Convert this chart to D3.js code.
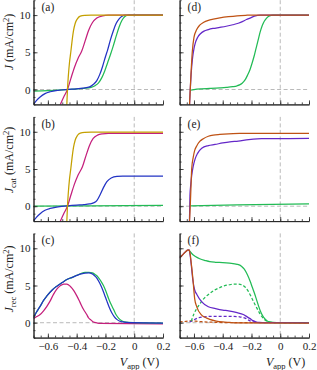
<!DOCTYPE html>
<html>
<head>
<meta charset="utf-8">
<script src="https://cdn.jsdelivr.net/npm/d3@7"></script>
<style>
  body { margin: 0; background: #fff; }
  svg text { font-family: "Liberation Serif", "DejaVu Serif", serif; fill: #222; }
</style>
</head>
<body>
<svg width="317" height="370"></svg>
<script>

// ---- data: [V_app (V), J (mA/cm2)] ----

var aGold = [[-0.469,-2.3],[-0.464,0],[-0.458,1.8],[-0.45,3.6],[-0.441,5],[-0.432,6.5],[-0.422,7.9],[-0.41,8.9],[-0.395,9.5],[-0.375,9.85],[-0.345,9.97],[-0.3,10],[0.2,10]]
var aMagenta = [[-0.52,-2.3],[-0.49,-1],[-0.464,0],[-0.44,1.5],[-0.415,3],[-0.39,4.2],[-0.364,5.2],[-0.34,6.6],[-0.318,7.9],[-0.29,9],[-0.26,9.6],[-0.22,9.9],[-0.18,10],[0.2,10]]
var aBlue = [[-0.7,-2],[-0.68,-1.5],[-0.654,-1],[-0.62,-0.55],[-0.584,-0.3],[-0.53,-0.1],[-0.464,0.02],[-0.4,0.1],[-0.353,0.2],[-0.31,0.35],[-0.283,0.7],[-0.26,1.2],[-0.24,2],[-0.22,3.1],[-0.2,4.4],[-0.185,5.3],[-0.165,6.7],[-0.145,7.9],[-0.125,8.9],[-0.105,9.5],[-0.085,9.85],[-0.06,10],[0.2,10]]
var aGreen = [[-0.7,-0.2],[-0.6,-0.15],[-0.5,-0.05],[-0.42,0.05],[-0.35,0.15],[-0.3,0.3],[-0.27,0.55],[-0.248,0.9],[-0.225,1.6],[-0.205,2.5],[-0.185,3.6],[-0.165,4.7],[-0.145,5.9],[-0.125,7.2],[-0.105,8.4],[-0.085,9.3],[-0.065,9.8],[-0.04,10],[0.2,10]]

var bGold = [[-0.469,-2.3],[-0.464,0],[-0.458,1.8],[-0.45,3.6],[-0.441,5],[-0.432,6.5],[-0.422,7.9],[-0.41,8.9],[-0.395,9.5],[-0.375,9.82],[-0.345,9.93],[-0.3,9.95],[0.2,9.95]]
var bMagenta = [[-0.52,-2.3],[-0.49,-1],[-0.464,0],[-0.44,1.5],[-0.415,3],[-0.39,4.2],[-0.36,5.3],[-0.335,6.8],[-0.31,8.2],[-0.285,9.1],[-0.255,9.55],[-0.22,9.72],[-0.18,9.78],[0.2,9.8]]
var bBlue = [[-0.7,-2],[-0.68,-1.5],[-0.654,-1],[-0.62,-0.55],[-0.584,-0.3],[-0.53,-0.1],[-0.464,0.05],[-0.4,0.15],[-0.35,0.2],[-0.31,0.3],[-0.283,0.45],[-0.26,0.75],[-0.237,1.55],[-0.214,2.5],[-0.19,3.3],[-0.16,3.8],[-0.12,4.0],[-0.08,4.03],[0.2,4.05]]
var bGreen = [[-0.7,0.02],[-0.3,0.06],[0.2,0.1]]

var cBlue = [[-0.7,0.67],[-0.68,1.4],[-0.654,2.2],[-0.63,3],[-0.607,3.6],[-0.57,4.4],[-0.538,4.9],[-0.5,5.4],[-0.468,5.8],[-0.43,6.1],[-0.399,6.35],[-0.37,6.55],[-0.341,6.67],[-0.315,6.68],[-0.295,6.6],[-0.275,6.3],[-0.26,6],[-0.242,5.4],[-0.225,4.7],[-0.207,3.8],[-0.19,2.9],[-0.173,2.05],[-0.156,1.33],[-0.138,0.8],[-0.121,0.45],[-0.1,0.2],[-0.08,0.1],[-0.05,0.03],[-0.02,0],[0.2,-0.05]]
var cGreen = [[-0.7,0.67],[-0.68,1.4],[-0.654,2.2],[-0.63,3],[-0.607,3.6],[-0.57,4.4],[-0.538,4.9],[-0.5,5.4],[-0.468,5.8],[-0.43,6.1],[-0.399,6.38],[-0.37,6.6],[-0.341,6.75],[-0.315,6.78],[-0.29,6.7],[-0.27,6.45],[-0.25,6.1],[-0.232,5.6],[-0.214,5],[-0.196,4.2],[-0.179,3.3],[-0.162,2.5],[-0.144,1.8],[-0.127,1.1],[-0.109,0.62],[-0.09,0.3],[-0.07,0.12],[-0.04,0.03],[0,0],[0.2,-0.05]]
var cMagenta = [[-0.7,0.53],[-0.68,0.8],[-0.654,1.1],[-0.63,1.6],[-0.607,2.2],[-0.585,2.9],[-0.561,3.8],[-0.538,4.5],[-0.515,4.95],[-0.49,5.2],[-0.468,5.2],[-0.445,4.9],[-0.42,4.3],[-0.399,3.6],[-0.376,2.7],[-0.353,1.8],[-0.33,1.1],[-0.318,0.67],[-0.3,0.35],[-0.284,0.1],[-0.26,-0.02],[-0.237,-0.1],[0.2,-0.15]]

var dOrange = [[-0.632,-2.5],[-0.626,0],[-0.621,2],[-0.612,5],[-0.6,7],[-0.581,8.05],[-0.56,8.65],[-0.535,9],[-0.5,9.3],[-0.466,9.46],[-0.42,9.62],[-0.36,9.78],[-0.3,9.9],[-0.24,9.97],[-0.2,10],[0.2,10]]
var dPurple = [[-0.632,-2.5],[-0.626,0],[-0.62,2],[-0.61,4.2],[-0.6,5.5],[-0.59,6.3],[-0.575,7],[-0.555,7.5],[-0.53,7.85],[-0.5,8.05],[-0.468,8.2],[-0.42,8.35],[-0.376,8.5],[-0.33,8.7],[-0.292,8.9],[-0.26,9.15],[-0.235,9.4],[-0.21,9.6],[-0.18,9.85],[-0.14,10],[0.2,10]]
var dGreen = [[-0.626,-0.1],[-0.6,0],[-0.55,0.1],[-0.49,0.15],[-0.42,0.22],[-0.376,0.28],[-0.33,0.38],[-0.3,0.5],[-0.283,0.62],[-0.265,0.85],[-0.246,1.25],[-0.228,1.9],[-0.21,2.7],[-0.195,3.6],[-0.18,4.6],[-0.166,5.7],[-0.153,6.7],[-0.14,7.7],[-0.125,8.6],[-0.11,9.2],[-0.095,9.6],[-0.075,9.9],[-0.05,10],[0.2,10]]

var eOrange = [[-0.632,-2.5],[-0.626,0],[-0.621,2.5],[-0.616,5],[-0.605,6.6],[-0.595,7.5],[-0.581,8.1],[-0.56,8.7],[-0.535,9.07],[-0.5,9.4],[-0.466,9.56],[-0.42,9.65],[-0.36,9.73],[-0.28,9.78],[-0.2,9.8],[0.2,9.8]]
var ePurple = [[-0.632,-2.5],[-0.628,1.4],[-0.622,3],[-0.616,4.1],[-0.605,5.4],[-0.593,6.3],[-0.575,7.1],[-0.546,7.8],[-0.5,8.15],[-0.454,8.3],[-0.4,8.5],[-0.35,8.65],[-0.292,8.76],[-0.22,8.95],[-0.16,9.05],[-0.13,9.07],[0.2,9.1]]
var eGreen = [[-0.628,0.03],[-0.3,0.18],[0.2,0.32]]

var fOrange = [[-0.7,8.67],[-0.68,9.1],[-0.66,9.5],[-0.645,9.75],[-0.635,9.8],[-0.627,9.3],[-0.619,8],[-0.607,5.8],[-0.595,3.2],[-0.58,2.1],[-0.55,1.1],[-0.52,0.7],[-0.49,0.45],[-0.445,0.22],[-0.4,0.1],[-0.353,0.04],[-0.3,-0.02],[0.2,-0.06]]
var fPurple = [[-0.7,8.67],[-0.68,9.1],[-0.66,9.5],[-0.645,9.75],[-0.635,9.8],[-0.627,9.1],[-0.619,7.8],[-0.607,5.6],[-0.595,4.4],[-0.58,3.8],[-0.546,2.8],[-0.5,2.15],[-0.45,1.9],[-0.4,1.7],[-0.36,1.6],[-0.3,1.35],[-0.257,1.1],[-0.235,0.85],[-0.21,0.55],[-0.19,0.28],[-0.17,0.12],[-0.145,0.03],[-0.1,0],[0.2,-0.03]]
var fGreen = [[-0.635,9.8],[-0.62,9.4],[-0.605,9.1],[-0.59,8.9],[-0.56,8.6],[-0.52,8.35],[-0.49,8.2],[-0.45,8.12],[-0.4,8.08],[-0.353,8],[-0.3,7.85],[-0.27,7.6],[-0.25,7.2],[-0.23,6.5],[-0.21,5.6],[-0.195,4.8],[-0.18,4],[-0.165,3.1],[-0.15,2.2],[-0.137,1.5],[-0.123,0.95],[-0.108,0.55],[-0.093,0.27],[-0.075,0.1],[-0.05,0.03],[0,0],[0.2,0]]
var fGreenDash = [[-0.619,0.2],[-0.6,1.2],[-0.584,1.8],[-0.56,2.5],[-0.538,3.1],[-0.515,3.55],[-0.492,3.9],[-0.46,4.35],[-0.422,4.7],[-0.39,4.95],[-0.353,5.1],[-0.32,5.2],[-0.295,5.2],[-0.27,5.1],[-0.245,4.8],[-0.225,4.3],[-0.205,3.6],[-0.185,2.8],[-0.165,2.05],[-0.15,1.5],[-0.137,1.05],[-0.123,0.7],[-0.108,0.4],[-0.093,0.2],[-0.075,0.08],[-0.05,0.02],[0,0],[0.2,0]]
var fPurpleDash = [[-0.63,0.1],[-0.61,0.3],[-0.596,0.44],[-0.57,0.65],[-0.53,0.78],[-0.492,0.84],[-0.4,0.86],[-0.33,0.84],[-0.283,0.8],[-0.26,0.7],[-0.237,0.55],[-0.22,0.35],[-0.2,0.15],[-0.18,0.07],[-0.15,0.02],[0.2,0]]
var fOrangeDash = [[-0.7,0.1],[-0.67,0.15],[-0.64,0.22],[-0.62,0.25],[-0.6,0.22],[-0.57,0.17],[-0.53,0.12],[-0.48,0.07],[-0.42,0.03],[-0.35,0.01],[0.2,0]]

var vMajorTicks = [-0.6, -0.4, -0.2, 0, 0.2]
var vTickLabels = ["\u22120.6", "\u22120.4", "\u22120.2", "0", "0.2"]
var jMajorTicks = [0, 5, 10]
var jTickLabels = ["0", "5", "10"]
var panelLetters = ["(a)", "(b)", "(c)", "(d)", "(e)", "(f)"]
var yLabelSubs = ["", "cat", "rec"]

var gold = "#c4a000", magenta = "#c41f7c", blue = "#2233c4",
    green = "#22bb55", purple = "#6428c8", orange = "#bf5214"

var svg = d3.select("svg")

// layout
var colX = [[33.5, 163], [179.6, 309]]
var rowTop = [0.2, 116.9, 233.4]
var rowH = 104.2
var yLabelMid = [42, 160, 279]

var panels = [
  {col: 0, row: 0, curves: [[aGreen, green], [aBlue, blue], [aMagenta, magenta], [aGold, gold]]},
  {col: 0, row: 1, curves: [[bGreen, green], [bBlue, blue], [bMagenta, magenta], [bGold, gold]]},
  {col: 0, row: 2, curves: [[cMagenta, magenta], [cGreen, green], [cBlue, blue]]},
  {col: 1, row: 0, curves: [[dGreen, green], [dPurple, purple], [dOrange, orange]]},
  {col: 1, row: 1, curves: [[eGreen, green], [ePurple, purple], [eOrange, orange]]},
  {col: 1, row: 2, curves: [[fOrangeDash, orange, true], [fPurpleDash, purple, true], [fGreenDash, green, true],
                            [fGreen, green], [fPurple, purple], [fOrange, orange]]}
]

panels.forEach(function(p, i) {
  var x = d3.scaleLinear().domain([-0.7, 0.2]).range(colX[p.col])
  var y = d3.scaleLinear().domain([-2, 12]).range([rowTop[p.row] + rowH, rowTop[p.row]])
  var g = svg.append("g")

  g.append("clipPath").attr("id", "clip" + i)
    .append("rect")
    .attr("x", x(-0.7)).attr("y", y(12))
    .attr("width", x(0.2) - x(-0.7)).attr("height", y(-2) - y(12))

  // dashed guides at J=0 and V=0
  g.append("line")
    .attr("x1", x(-0.7)).attr("x2", x(0.2)).attr("y1", y(0)).attr("y2", y(0))
    .attr("stroke", "#a8a8a8").attr("stroke-width", 0.8).attr("stroke-dasharray", "4,2.5")
  g.append("line")
    .attr("x1", x(0)).attr("x2", x(0)).attr("y1", y(12)).attr("y2", y(-2))
    .attr("stroke", "#a8a8a8").attr("stroke-width", 0.8).attr("stroke-dasharray", "4,2.5")

  var line = d3.line()
    .x(function(d) { return x(d[0]) })
    .y(function(d) { return y(d[1]) })
    .curve(d3.curveMonotoneX)

  var curves = g.append("g").attr("clip-path", "url(#clip" + i + ")")
  p.curves.forEach(function(c) {
    curves.append("path")
      .attr("d", line(c[0]))
      .attr("fill", "none")
      .attr("stroke", c[1])
      .attr("stroke-width", 1.25)
      .attr("stroke-dasharray", c[2] ? "3,2" : null)
  })

  // axes, ticks pointing inwards
  var bottom = p.row == 2
  var xMinor = d3.axisBottom(x).tickValues(d3.range(-0.7, 0.2001, 0.05)).tickSize(-2).tickSizeOuter(0).tickFormat("")
  var xMajor = d3.axisBottom(x).tickValues(vMajorTicks).tickSize(-4).tickSizeOuter(0).tickPadding(5)
    .tickFormat(function(d, k) { return bottom ? vTickLabels[k] : "" })
  var yMinor = d3.axisLeft(y).tickValues(d3.range(-2, 12.01, 1)).tickSize(-2).tickSizeOuter(0).tickFormat("")
  var yMajor = d3.axisLeft(y).tickValues(jMajorTicks).tickSize(-4).tickSizeOuter(0).tickPadding(3)
    .tickFormat(function(d, k) { return p.col == 0 ? jTickLabels[k] : "" })

  var gx = y(-2)
  g.append("g").attr("transform", "translate(0," + gx + ")").call(xMinor)
  g.append("g").attr("transform", "translate(0," + gx + ")").call(xMajor)
  g.append("g").attr("transform", "translate(" + x(-0.7) + ",0)").call(yMinor)
  g.append("g").attr("transform", "translate(" + x(-0.7) + ",0)").call(yMajor)

  g.selectAll(".domain").attr("stroke", "#222").attr("stroke-width", 0.9)
  g.selectAll(".tick line").attr("stroke", "#222").attr("stroke-width", 0.8)
  g.selectAll(".tick text")
    .attr("font-size", 11)
    .attr("fill", "#222")

  g.append("text")
    .attr("x", x(-0.7) + 8)
    .attr("y", rowTop[p.row] + 11)
    .attr("font-size", 11.5)
    .text(panelLetters[i])

  if (p.col == 0) {
    var lab = g.append("text")
      .attr("transform", "translate(13," + yLabelMid[p.row] + ") rotate(-90)")
      .attr("text-anchor", "middle")
      .attr("font-size", 12)
    lab.append("tspan").attr("font-style", "italic").text("J")
    if (yLabelSubs[p.row]) {
      lab.append("tspan").attr("font-size", 8.5).attr("dy", 2.5).text(yLabelSubs[p.row])
      lab.append("tspan").attr("dy", -2.5).text(" (mA/cm")
    } else {
      lab.append("tspan").text(" (mA/cm")
    }
    lab.append("tspan").attr("font-size", 8.5).attr("dy", -4.5).text("2")
    lab.append("tspan").attr("dy", 4.5).text(")")
  }

  if (bottom) {
    var xl = g.append("text")
      .attr("x", colX[p.col][0] + 106)
      .attr("y", 366)
      .attr("text-anchor", "middle")
      .attr("font-size", 12)
    xl.append("tspan").attr("font-style", "italic").text("V")
    xl.append("tspan").attr("font-size", 8.5).attr("dy", 2.5).text("app")
    xl.append("tspan").attr("dy", -2.5).text(" (V)")
  }
})

</script>
</body>
</html>
